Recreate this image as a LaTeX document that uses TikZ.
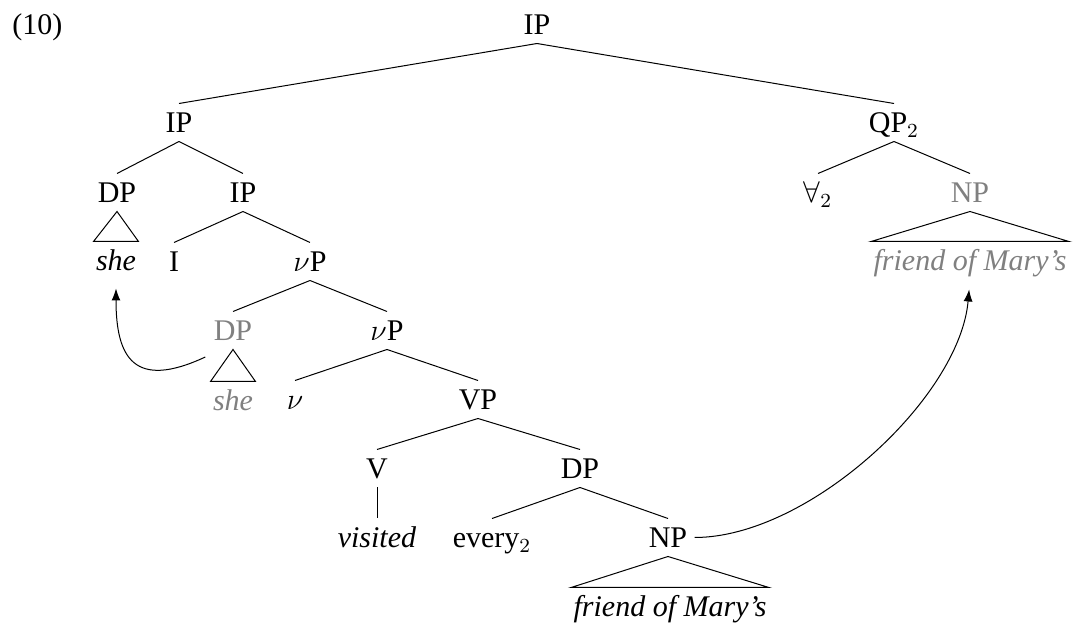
\documentclass[tikz,border=0pt,12pt]{standalone}
\usepackage{fontspec}
\setmainfont{Liberation Serif}
\usetikzlibrary{arrows.meta}

\begin{document}
\begin{tikzpicture}[
  x=0.4pt, y=0.4pt,
  cat/.style={anchor=base, inner xsep=0.8pt, inner ysep=0pt, text height=11.6pt, text depth=3.2pt},
  unpron/.style={cat, text=gray},
  arrow/.style={-{Latex}}
]
\useasboundingbox (0,0) rectangle (1076,-626);
\node[anchor=base west, inner sep=0pt] (exnum) at (12,-35) {(10)};
\node[cat] (ipTop) at (537,-35) {IP};
\node[cat] (ipLeft) at (179,-133) {IP};
\node[cat] (qp) at (894,-133) {QP$_2$};
\node[cat] (dpSubj) at (117,-203) {DP};
\node[cat] (ipMid) at (243,-203) {IP};
\node[cat] (forall) at (818,-203) {$\forall_2$};
\node[unpron] (npRes) at (970,-203) {NP};
\node[cat] (sheHigh) at (116,-271) {\textit{she}};
\node[cat] (infl) at (174,-272) {I};
\node[cat] (vpA) at (310,-272) {$\nu$P};
\node[unpron] (friendHigh) at (970,-271) {\textit{friend of Mary's}};
\node[unpron] (dpLow) at (233,-341) {DP};
\node[cat] (vpB) at (387,-341) {$\nu$P};
\node[unpron] (sheLow) at (233,-411) {\textit{she}};
\node[cat] (vLight) at (295,-410) {$\nu$};
\node[cat] (vp) at (478,-410) {VP};
\node[cat] (verb) at (377,-479) {V};
\node[cat] (dpObj) at (580,-479) {DP};
\node[cat] (visited) at (377,-548) {\textit{visited}};
\node[cat] (every) at (492,-548) {every$_2$};
\node[cat] (npObj) at (668,-548) {NP};
\node[cat] (friendLow) at (670,-617) {\textit{friend of Mary's}};
\draw (ipTop.south) -- (ipLeft.north);
\draw (ipTop.south) -- (qp.north);
\draw (ipLeft.south) -- (dpSubj.north);
\draw (ipLeft.south) -- (ipMid.north);
\draw (qp.south) -- (forall.north);
\draw (qp.south) -- (npRes.north);
\draw (ipMid.south) -- (infl.north);
\draw (ipMid.south) -- (vpA.north);
\draw (vpA.south) -- (dpLow.north);
\draw (vpA.south) -- (vpB.north);
\draw (vpB.south) -- (vLight.north);
\draw (vpB.south) -- (vp.north);
\draw (vp.south) -- (verb.north);
\draw (vp.south) -- (dpObj.north);
\draw (verb.south) -- (visited.north);
\draw (dpObj.south) -- (every.north);
\draw (dpObj.south) -- (npObj.north);
% roofs
\draw (dpSubj.south) -- (sheHigh.north west) -- (sheHigh.north east) -- cycle;
\draw (dpLow.south) -- (sheLow.north west) -- (sheLow.north east) -- cycle;
\draw (npRes.south) -- (friendHigh.north west) -- (friendHigh.north east) -- cycle;
\draw (npObj.south) -- (friendLow.north west) -- (friendLow.north east) -- cycle;
% movement
\draw[arrow, shorten >=3.6pt] ([shift={(-6,-16)}]dpLow.base west) to[out=-155, in=-90, looseness=1.7] (sheHigh.south);
\draw[arrow, shorten <=2pt, shorten >=4pt] (npObj.east) to[out=0, in=-95, looseness=0.8] (friendHigh.south);
\end{tikzpicture}
\end{document}
